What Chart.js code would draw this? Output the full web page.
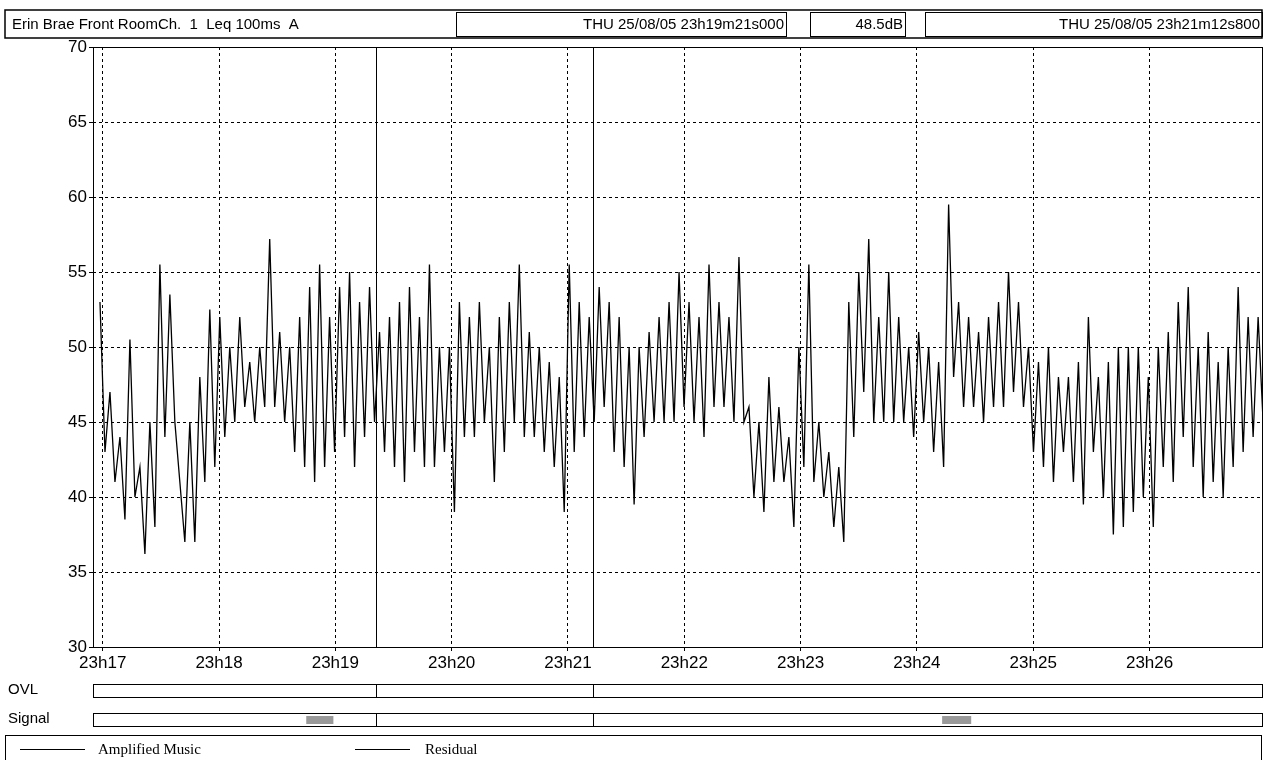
<!DOCTYPE html>
<html>
<head>
<meta charset="utf-8">
<script src="https://cdn.jsdelivr.net/npm/chart.js@4/dist/chart.umd.min.js"></script>
<style>
  html, body { margin: 0; padding: 0; background: #fff; }
  #wrap { width: 1265px; height: 760px; position: relative; }
</style>
</head>
<body>
<div id="wrap"><canvas id="chartCanvas" width="1265" height="760"></canvas></div>
<script>
// ===============================
// DATA (seconds after 23h00, dB)
// ===============================
const startSec = 1018.6;
const stepSec = 5.15;
const highs = [53,47,44,50.5,42,45,55.5,53.5,41,45,48,52.5,52,50,52,49,50,57.2,51,50,52,54,55.5,52,54,55,53,54,51,52,
  53,54,52,55.5,50,50,53,52,53,50,52,53,55.5,51,50,49,48,55.5,53,52,54,53,52,50,50,51,52,53,55,53,
  52,55.5,53,52,56,46,45,48,46,44,50,55.5,45,43,42,53,55,57.2,52,55,52,50,51,50,49,59.5,53,52,51,52,
  53,55,53,50,49,50,48,48,49,52,48,49,50,50,50,48,50,51,53,54,50,51,49,50,54,52,52];
const lows = [43,41,38.5,40,36.2,38,44,45,37,37,41,42,44,45,46,45,46,46,45,43,42,41,42,43,44,42,44,45,43,42,
  41,43,42,42,43,39,44,44,45,41,43,45,44,44,43,42,39,43,44,45,46,43,42,39.5,44,45,45,45,46,45,
  44,46,46,45,45,40,39,41,41,38,42,41,40,38,37,44,47,45,45,45,45,44,45,43,42,48,46,46,45,46,
  46,47,46,43,42,41,43,41,39.5,43,40,37.5,38,39,40,38,42,41,44,42,40,41,40,42,43,44,45];
const cursorA = 1161;      // 23h19m21s000
const cursorB = 1272.8;    // 23h21m12s800
const signalMarks = [[1125, 1139], [1453, 1468]];
const headerTexts = ["Erin Brae Front RoomCh.  1  Leq 100ms  A", "THU 25/08/05 23h19m21s000", "48.5dB", "THU 25/08/05 23h21m12s800"];
const legendNames = ["Amplified Music", "Residual"];

const trace = [];
highs.forEach((h, i) => {
  const t = startSec + i * stepSec;
  trace.push({ x: t, y: h });
  trace.push({ x: t + stepSec / 2, y: lows[i] });
});

const FONT = "'Liberation Sans', Arial, sans-serif";

// ===============================
// FRAME / HEADER / FOOTER
// ===============================
const framePlugin = {
  id: "frame",
  afterDraw(c) {
    const ctx = c.ctx, a = c.chartArea, xs = c.scales.x;
    ctx.save();
    ctx.strokeStyle = "#000";
    ctx.lineWidth = 1;
    ctx.strokeRect(a.left + 0.5, a.top + 0.5, a.right - a.left, a.bottom - a.top);

    // cursors
    [cursorA, cursorB].forEach(v => {
      const px = Math.round(xs.getPixelForValue(v)) + 0.5;
      ctx.beginPath(); ctx.moveTo(px, a.top); ctx.lineTo(px, a.bottom); ctx.stroke();
    });

    // header
    ctx.lineWidth = 1.5;
    ctx.strokeRect(5, 10, 1257, 28);
    ctx.lineWidth = 1;
    [[456, 786], [810, 905], [925, 1262]].forEach(([l, r]) => ctx.strokeRect(l + 0.5, 12.5, r - l, 24));
    ctx.fillStyle = "#000";
    ctx.font = "15px " + FONT;
    ctx.textBaseline = "middle";
    ctx.textAlign = "left";
    ctx.fillText(headerTexts[0], 12, 25);
    ctx.textAlign = "right";
    ctx.fillText(headerTexts[1], 784, 25);
    ctx.fillText(headerTexts[2], 903, 25);
    ctx.fillText(headerTexts[3], 1260, 25);

    // OVL / Signal rows
    const rows = [["OVL", 684], ["Signal", 713]];
    rows.forEach(([name, y]) => {
      ctx.textAlign = "left";
      ctx.font = "15px " + FONT;
      ctx.fillText(name, 8, y + 6);
      ctx.strokeRect(a.left + 0.5, y + 0.5, a.right - a.left, 13);
      [cursorA, cursorB].forEach(v => {
        const px = Math.round(xs.getPixelForValue(v)) + 0.5;
        ctx.beginPath(); ctx.moveTo(px, y); ctx.lineTo(px, y + 13); ctx.stroke();
      });
    });
    ctx.fillStyle = "#999";
    signalMarks.forEach(([s, e]) => {
      const l = xs.getPixelForValue(s), r = xs.getPixelForValue(e);
      ctx.fillRect(l, 716, r - l, 8);
    });

    // legend row
    ctx.strokeRect(5.5, 735.5, 1256, 30);
    ctx.fillStyle = "#000";
    ctx.beginPath(); ctx.moveTo(20, 749.5); ctx.lineTo(85, 749.5); ctx.stroke();
    ctx.beginPath(); ctx.moveTo(355, 749.5); ctx.lineTo(410, 749.5); ctx.stroke();
    ctx.font = "15px 'Liberation Serif', serif";
    ctx.fillText(legendNames[0], 98, 750);
    ctx.fillText(legendNames[1], 425, 750);
    ctx.restore();
  }
};

// ===============================
// CHART
// ===============================
const chart = new Chart(document.getElementById("chartCanvas"), {
  type: "line",
  data: {
    datasets: [{
      label: legendNames[0],
      data: trace,
      borderColor: "#000",
      borderWidth: 1.3,
      pointRadius: 0,
      tension: 0
    }]
  },
  options: {
    responsive: false,
    animation: false,
    layout: { padding: { left: 0, top: 47, right: 3, bottom: 83 } },
    plugins: { legend: { display: false }, tooltip: { enabled: false } },
    scales: {
      x: {
        type: "linear",
        min: 1015,
        max: 1618,
        afterFit: s => { s.height = 30; },
        afterBuildTicks: s => {
          s.ticks = [];
          for (let v = 1020; v <= 1560; v += 60) s.ticks.push({ value: v });
        },
        grid: { color: "#000", lineWidth: 1, tickLength: 4, drawTicks: true, borderDash: [3, 3] },
        border: { display: false, dash: [3, 3] },
        ticks: {
          color: "#000",
          font: { family: "'Liberation Sans', Arial", size: 17 },
          padding: 2,
          callback: v => "23h" + String(Math.floor(v / 60))
        }
      },
      y: {
        min: 30,
        max: 70,
        afterFit: s => { s.width = 93; },
        ticks: {
          stepSize: 5,
          color: "#000",
          font: { family: "'Liberation Sans', Arial", size: 17 },
          padding: 2
        },
        grid: { color: "#000", lineWidth: 1, tickLength: 4 },
        border: { display: false, dash: [3, 3] }
      }
    }
  },
  plugins: [framePlugin]
});
// dashed grid lines
chart.options.scales.x.border.dash = [3, 3];
chart.options.scales.y.grid.borderDash = [3, 3];
Chart.defaults.scale.grid.borderDash = [3, 3];
</script>
</body>
</html>
